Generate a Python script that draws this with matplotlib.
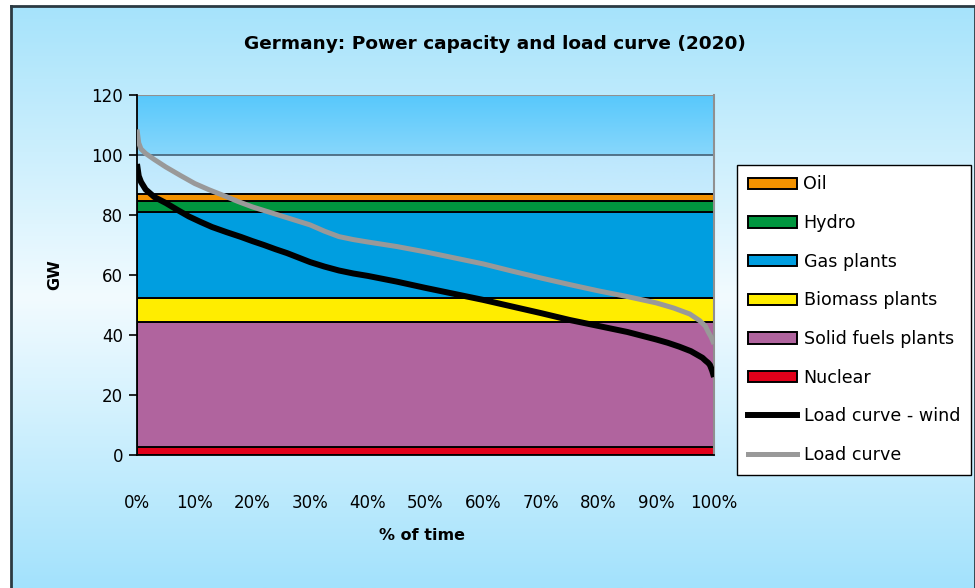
import numpy as np
import matplotlib
matplotlib.use("Agg")
import matplotlib.pyplot as plt
from matplotlib.patches import Patch
from matplotlib.lines import Line2D
from matplotlib.ticker import FuncFormatter

# ---- data ----
capacity_names = ["Nuclear", "Solid fuels plants", "Biomass plants", "Gas plants", "Hydro", "Oil"]
capacity_gw = [2.8, 41.6, 8.0, 28.7, 3.7, 2.1]
capacity_colors = ["#E2001A", "#B0649E", "#FFED00", "#009EE0", "#00963F", "#F39200"]

load_wind_pct = [0, 0.3, 0.7, 1.5, 3, 5, 7, 9, 11, 13, 15.5, 18, 20, 22, 24, 26, 28, 30,
                 32.5, 35, 37.5, 40, 45, 50, 55, 60, 65, 70, 75, 80, 85, 88, 90, 92, 94,
                 96, 97, 98, 98.5, 99, 99.3, 99.7, 100]
load_wind_gw = [97, 93, 91, 88.5, 86, 84, 81.7, 79.5, 77.7, 76, 74.3, 72.7, 71.3, 70,
                68.6, 67.3, 65.8, 64.3, 62.8, 61.5, 60.5, 59.7, 57.8, 55.7, 53.7, 51.7,
                49.5, 47.3, 45, 43, 41, 39.5, 38.5, 37.4, 36.1, 34.6, 33.5, 32.4, 31.5,
                30.7, 30, 28, 26]

load_pct = [0, 0.3, 0.7, 1.5, 3, 5, 7.5, 10, 12.5, 15, 17.5, 20, 22.5, 25, 27.5, 30,
            32.5, 35, 37.5, 40, 45, 50, 55, 60, 65, 70, 75, 80, 85, 90, 93, 95.8,
            97.5, 98.5, 99, 99.5, 100]
load_gw = [108.5, 104, 102, 100.5, 98.5, 96, 93.2, 90.5, 88.4, 86.5, 84.5, 82.7, 81.2,
           79.7, 78.2, 76.7, 74.6, 72.8, 71.8, 71, 69.5, 67.7, 65.7, 63.7, 61.3, 59,
           56.8, 54.7, 52.8, 50.7, 49, 47, 44.8, 43, 41, 39.3, 37]

y_ticks = [0, 20, 40, 60, 80, 100, 120]
x_ticks = [0, 10, 20, 30, 40, 50, 60, 70, 80, 90, 100]

W, H = 975, 588
fig = plt.figure(figsize=(W / 100, H / 100), dpi=100)
fig.patch.set_facecolor("white")

# background panel with vertical gradient
bg = fig.add_axes([11 / W, 0, 1 - 11 / W, 1 - 6 / H])
bg.set_zorder(-10)
t = np.linspace(0, 1, 256)
top = np.array([166, 227, 251]) / 255
mid = np.array([242, 251, 255]) / 255
bot = np.array([163, 226, 252]) / 255
grad = np.empty((256, 1, 3))
for i, v in enumerate(t):
    if v < 0.5:
        grad[i, 0] = top + (mid - top) * (v / 0.5)
    else:
        grad[i, 0] = mid + (bot - mid) * ((v - 0.5) / 0.5)
bg.imshow(grad, aspect="auto", extent=[0, 1, 0, 1], origin="upper")
bg.set_xlim(0, 1)
bg.set_ylim(0, 1)
bg.set_xticks([])
bg.set_yticks([])
bg.spines["bottom"].set_visible(False)
for s in ["left", "top", "right"]:
    bg.spines[s].set_color("#2b3a42")
    bg.spines[s].set_linewidth(2)

# main axes
ax = fig.add_axes([137 / W, 1 - 455 / H, (714 - 137) / W, (455 - 95) / H])
ax.patch.set_alpha(0)

# plot area bands
g1 = np.linspace(0, 1, 100)[:, None, None]
c_a = np.array([88, 200, 251]) / 255
c_b = np.array([135, 215, 252]) / 255
band1 = c_a + (c_b - c_a) * g1
ax.imshow(band1, aspect="auto", extent=[0, 100, 100, 120], origin="upper", zorder=0)
c_c = np.array([188, 231, 253]) / 255
c_d = np.array([200, 236, 253]) / 255
band2 = c_c + (c_d - c_c) * g1
ax.imshow(band2, aspect="auto", extent=[0, 100, 86, 100], origin="upper", zorder=0)
ax.set_xlim(0, 100)
ax.set_ylim(0, 120)

ax.axhline(100, color="#4a6a80", lw=1.3, zorder=1)
ax.axhline(120, color="#909090", lw=1.5, zorder=1)

bottom = 0
for name, val, col in zip(capacity_names, capacity_gw, capacity_colors):
    ax.bar(50, val, width=100, bottom=bottom, color=col, edgecolor="black", linewidth=1.4, zorder=2)
    bottom += val

ax.plot(load_pct, load_gw, color="#999999", lw=3.6, zorder=4, solid_capstyle="butt",
        solid_joinstyle="round")
ax.plot(load_wind_pct, load_wind_gw, color="black", lw=4.3, zorder=5, solid_capstyle="butt",
        solid_joinstyle="round")

ax.set_yticks(y_ticks)
ax.set_xticks(x_ticks)
ax.xaxis.set_major_formatter(FuncFormatter(lambda v, p: f"{int(v)}%"))
ax.tick_params(axis="y", direction="out", length=6, width=1.2, labelsize=12, pad=4)
ax.tick_params(axis="x", length=0, labelsize=12, pad=28)
ax.spines["top"].set_visible(False)
ax.spines["right"].set_color("#909090")
ax.spines["right"].set_linewidth(1.5)
ax.spines["left"].set_color("black")
ax.spines["left"].set_linewidth(1.3)
ax.spines["bottom"].set_color("black")
ax.spines["bottom"].set_linewidth(1.3)

fig.text(495 / W, 1 - 44 / H, "Germany: Power capacity and load curve (2020)",
         ha="center", va="center", fontsize=13.3, fontweight="bold")
fig.text(55 / W, 1 - 275 / H, "GW", ha="center", va="center", rotation=90,
         fontsize=11.5, fontweight="bold")
fig.text(422 / W, 1 - 536 / H, "% of time", ha="center", va="center",
         fontsize=11.5, fontweight="bold")

handles = []
labels = []
for name, col in zip(reversed(capacity_names), reversed(capacity_colors)):
    handles.append(Patch(facecolor=col, edgecolor="black", linewidth=1.4))
    labels.append(name)
handles.append(Line2D([], [], color="black", lw=4.3))
labels.append("Load curve - wind")
handles.append(Line2D([], [], color="#999999", lw=3.6))
labels.append("Load curve")

leg = fig.legend(handles, labels, loc="upper left", bbox_to_anchor=(737 / W, 1 - 165 / H),
                 frameon=True, fancybox=False, fontsize=12.6, handlelength=2.8,
                 handleheight=0.63, labelspacing=1.18, handletextpad=0.4,
                 borderpad=0.6, borderaxespad=0)
leg.get_frame().set_edgecolor("black")
leg.get_frame().set_linewidth(1.0)
leg.get_frame().set_facecolor("white")
leg.get_frame().set_alpha(1)

fig.savefig("out.png", dpi=100)
